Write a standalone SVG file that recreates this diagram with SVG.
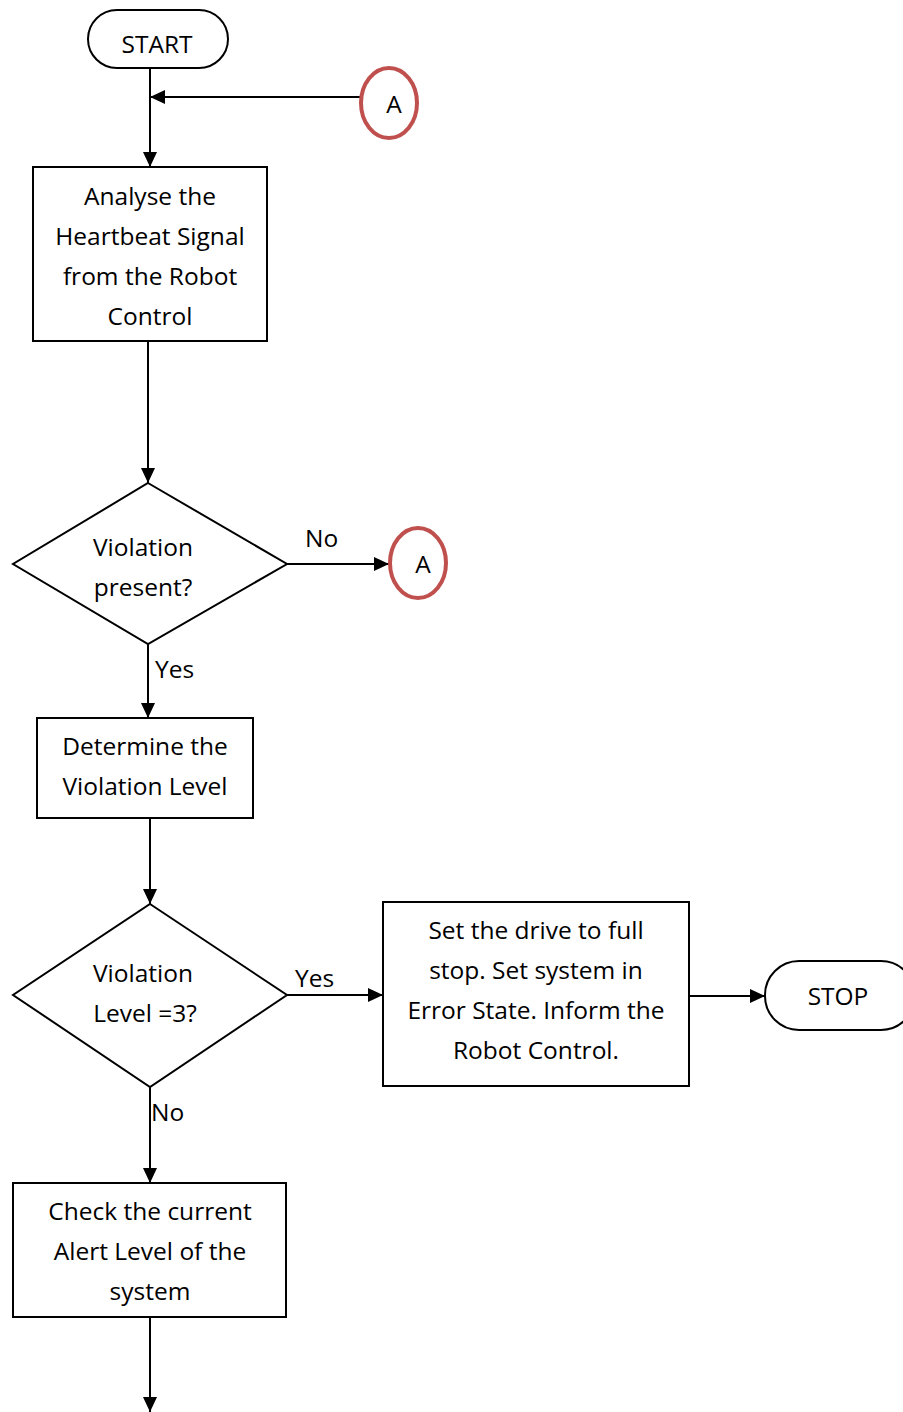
<svg xmlns="http://www.w3.org/2000/svg" width="903" height="1412" viewBox="0 0 903 1412">
<defs>
<marker id="arr" markerUnits="userSpaceOnUse" markerWidth="16" markerHeight="14" refX="15" refY="7" orient="auto">
<path d="M0,0 L15,7 L0,14 Z" fill="#000"/>
</marker>
<style>
.n{fill:#fff;stroke:#000;stroke-width:2}
.c{fill:#fff;stroke:#C0504D;stroke-width:4}
.t{font-family:"Open Sans","Liberation Sans",sans-serif;font-size:24.5px;fill:#000;text-anchor:middle}
.l{font-family:"Open Sans","Liberation Sans",sans-serif;font-size:24.5px;fill:#000}
.e{fill:none;stroke:#000;stroke-width:2;marker-end:url(#arr)}
</style>
</defs>
<rect width="903" height="1412" fill="#fff"/>
<g id="connectors">
<line class="e" x1="150" y1="68" x2="150" y2="167"/>
<line class="e" x1="361" y1="97" x2="150" y2="97"/>
<line class="e" x1="148" y1="341" x2="148" y2="483"/>
<line class="e" x1="287" y1="564" x2="389" y2="564"/>
<line class="e" x1="148" y1="644" x2="148" y2="718"/>
<line class="e" x1="150" y1="818" x2="150" y2="904"/>
<line class="e" x1="287" y1="995" x2="383" y2="995"/>
<line class="e" x1="689" y1="996" x2="765" y2="996"/>
<line class="e" x1="150" y1="1087" x2="150" y2="1183"/>
<line class="e" x1="150" y1="1317" x2="150" y2="1412"/>
<text class="l" x="305" y="547">No</text>
<text class="l" x="155" y="678">Yes</text>
<text class="l" x="295" y="987">Yes</text>
<text class="l" x="151" y="1121">No</text>
</g>
<g id="start">
<rect class="n" x="88" y="10" width="140" height="58" rx="29"/>
<text class="t" x="157" y="53">START</text>
</g>
<g id="connectorA1">
<ellipse class="c" cx="389" cy="103" rx="28" ry="35"/>
<text class="t" x="394" y="113">A</text>
</g>
<g id="analyse">
<rect class="n" x="33" y="167" width="234" height="174"/>
<text class="t" x="150" y="205">Analyse the</text>
<text class="t" x="150" y="245">Heartbeat Signal</text>
<text class="t" x="150" y="285">from the Robot</text>
<text class="t" x="150" y="325">Control</text>
</g>
<g id="decision1">
<polygon class="n" points="148,483 287,564 148,644 13,564"/>
<text class="t" x="143" y="556">Violation</text>
<text class="t" x="143" y="596">present?</text>
</g>
<g id="connectorA2">
<ellipse class="c" cx="418" cy="563" rx="28" ry="35"/>
<text class="t" x="423" y="573">A</text>
</g>
<g id="determine">
<rect class="n" x="37" y="718" width="216" height="100"/>
<text class="t" x="145" y="755">Determine the</text>
<text class="t" x="145" y="795">Violation Level</text>
</g>
<g id="decision2">
<polygon class="n" points="150,904 287,995 150,1087 13,995"/>
<text class="t" x="143" y="982">Violation</text>
<text class="t" x="145" y="1022">Level =3?</text>
</g>
<g id="fullstop">
<rect class="n" x="383" y="902" width="306" height="184"/>
<text class="t" x="536" y="939">Set the drive to full</text>
<text class="t" x="536" y="979">stop. Set system in</text>
<text class="t" x="536" y="1019">Error State. Inform the</text>
<text class="t" x="536" y="1059">Robot Control.</text>
</g>
<g id="stop">
<rect class="n" x="765" y="961" width="150" height="69" rx="34"/>
<text class="t" x="838" y="1005">STOP</text>
</g>
<g id="checkalert">
<rect class="n" x="13" y="1183" width="273" height="134"/>
<text class="t" x="150" y="1220">Check the current</text>
<text class="t" x="150" y="1260">Alert Level of the</text>
<text class="t" x="150" y="1300">system</text>
</g>
</svg>
